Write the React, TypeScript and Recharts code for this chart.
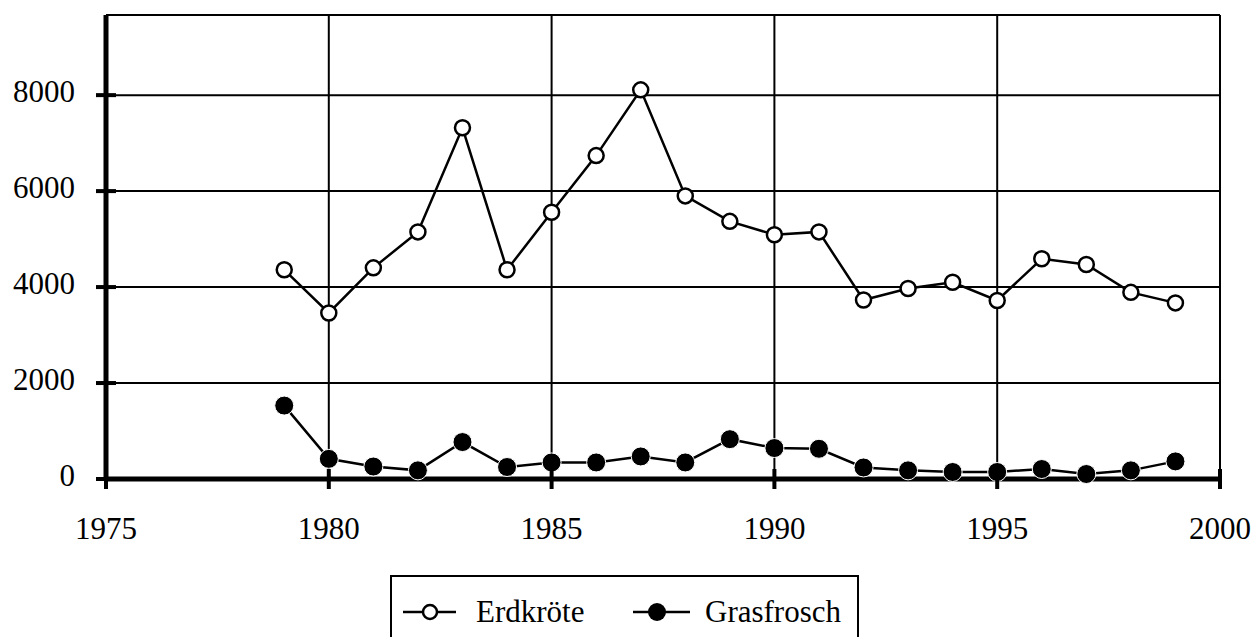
import React from 'react';
import { LineChart, Line, XAxis, YAxis, CartesianGrid, Legend } from 'recharts';

const years = [1979, 1980, 1981, 1982, 1983, 1984, 1985, 1986, 1987, 1988, 1989, 1990, 1991, 1992, 1993, 1994, 1995, 1996, 1997, 1998, 1999];
const erdkroete = [4360, 3460, 4400, 5150, 7320, 4360, 5560, 6740, 8110, 5900, 5370, 5090, 5150, 3730, 3970, 4100, 3720, 4590, 4470, 3890, 3670];
const grasfrosch = [1530, 420, 260, 180, 770, 250, 345, 345, 470, 345, 830, 645, 630, 240, 180, 146, 146, 208, 104, 180, 367];
const xTicks = [1975, 1980, 1985, 1990, 1995, 2000];
const yTicks = [0, 2000, 4000, 6000, 8000];
const seriesNames = ['Erdkröte', 'Grasfrosch'];

const data = years.map((year, i) => ({ year, erdkroete: erdkroete[i], grasfrosch: grasfrosch[i] }));

const FONT = '"Liberation Serif", "Times New Roman", serif';

const XTick = (props: any) => {
  const { x, y, payload } = props;
  return (
    <g>
      <line x1={x} x2={x} y1={y - 10} y2={y + 10} stroke="#000" strokeWidth={4} />
      <text x={x} y={y + 60} textAnchor="middle" fontFamily={FONT} fontSize={31} fill="#000">
        {payload.value}
      </text>
    </g>
  );
};

const YTick = (props: any) => {
  const { x, y, payload } = props;
  return (
    <g>
      <line x1={x - 10} x2={x + 10} y1={y} y2={y} stroke="#000" strokeWidth={4} />
      <text x={x - 31} y={y + 7} textAnchor="end" fontFamily={FONT} fontSize={31} fill="#000">
        {payload.value}
      </text>
    </g>
  );
};

const OpenDot = (props: any) => {
  const { cx, cy, index } = props;
  return <circle key={`o-${index}`} cx={cx} cy={cy} r={7.5} fill="#fff" stroke="#000" strokeWidth={2.5} />;
};

const FilledDot = (props: any) => {
  const { cx, cy, index } = props;
  return <circle key={`f-${index}`} cx={cx} cy={cy} r={9.5} fill="#000" stroke="#fff" strokeWidth={1} />;
};

const LegendContent = () => (
  <div style={{ width: 469, height: 75, border: '2px solid #000', boxSizing: 'border-box', background: '#fff' }}>
    <svg width={465} height={71}>
      <line x1={11} x2={30} y1={35} y2={35} stroke="#000" strokeWidth={2.5} />
      <circle cx={38} cy={35} r={7} fill="#fff" stroke="#000" strokeWidth={2.5} />
      <line x1={45} x2={64} y1={35} y2={35} stroke="#000" strokeWidth={2.5} />
      <text x={84} y={45} fontFamily={FONT} fontSize={31} fill="#000">{seriesNames[0]}</text>
      <line x1={241} x2={262} y1={35} y2={35} stroke="#000" strokeWidth={2.5} />
      <circle cx={265} cy={35} r={9} fill="#000" />
      <line x1={268} x2={298} y1={35} y2={35} stroke="#000" strokeWidth={2.5} />
      <text x={313} y={45} fontFamily={FONT} fontSize={31} fill="#000">{seriesNames[1]}</text>
    </svg>
  </div>
);

export default function App() {
  return (
    <div style={{ position: 'absolute', left: 0, top: 0, width: 1256, height: 637, background: '#fff' }}>
      <LineChart width={1256} height={637} data={data} margin={{ top: 15, right: 36, left: 0, bottom: 0 }}>
        <CartesianGrid stroke="#000" strokeWidth={2} strokeDasharray="" />
        <XAxis
          dataKey="year"
          type="number"
          domain={[1975, 2000]}
          ticks={xTicks}
          height={158}
          tickSize={0}
          tickMargin={0}
          tickLine={false}
          axisLine={{ stroke: '#000', strokeWidth: 5 }}
          tick={<XTick />}
          interval={0}
        />
        <YAxis
          type="number"
          domain={[0, 9670]}
          ticks={yTicks}
          width={106}
          tickSize={0}
          tickMargin={0}
          tickLine={false}
          axisLine={{ stroke: '#000', strokeWidth: 5 }}
          tick={<YTick />}
          interval={0}
        />
        <Legend
          layout="horizontal"
          verticalAlign="middle"
          align="center"
          wrapperStyle={{ top: 575, left: 390, width: 469, height: 75 }}
          content={<LegendContent />}
        />
        <Line
          dataKey="erdkroete"
          name={seriesNames[0]}
          stroke="#000"
          strokeWidth={2.5}
          dot={<OpenDot />}
          isAnimationActive={false}
        />
        <Line
          dataKey="grasfrosch"
          name={seriesNames[1]}
          stroke="#000"
          strokeWidth={2.5}
          dot={<FilledDot />}
          isAnimationActive={false}
        />
      </LineChart>
    </div>
  );
}
